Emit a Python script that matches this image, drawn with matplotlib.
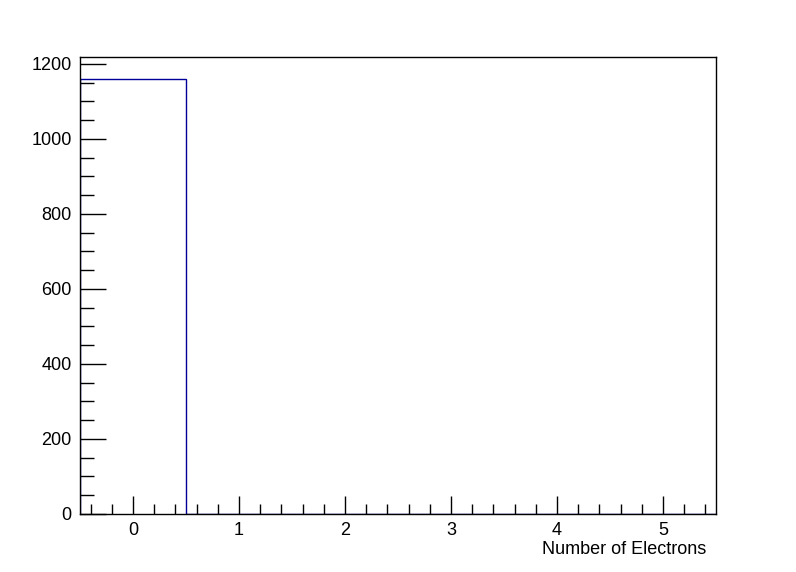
import matplotlib
matplotlib.use('Agg')
import matplotlib.pyplot as plt
from matplotlib.ticker import MultipleLocator
import numpy as np

# histogram: number of electrons per event
bin_edges = [-0.5, 0.5, 1.5, 2.5, 3.5, 4.5, 5.5]
counts = [1160, 0, 0, 0, 0, 0]
x_title = 'Number of Electrons'

plt.rcParams['font.family'] = ['Liberation Sans', 'DejaVu Sans']

fig = plt.figure(figsize=(7.96, 5.72), dpi=100)
ax = fig.add_axes([80/796, 58/572, 636/796, 457/572])

ax.stairs(counts, bin_edges, color='#000099', linewidth=1.0)

ax.set_xlim(bin_edges[0], bin_edges[-1])
ax.set_ylim(0, 1.05 * max(counts))

ax.xaxis.set_major_locator(MultipleLocator(1))
ax.xaxis.set_minor_locator(MultipleLocator(0.2))
ax.yaxis.set_major_locator(MultipleLocator(200))
ax.yaxis.set_minor_locator(MultipleLocator(50))

ax.tick_params(axis='both', which='both', direction='in', top=False, right=False,
               labelsize=13, width=1, color='black')
ax.tick_params(axis='x', which='major', length=13, pad=6)
ax.tick_params(axis='x', which='minor', length=7)
ax.tick_params(axis='y', which='major', length=19, pad=6)
ax.tick_params(axis='y', which='minor', length=10)

for s in ax.spines.values():
    s.set_linewidth(1)

ax.set_xlabel(x_title, fontsize=13, ha='right', va='baseline')
ax.xaxis.set_label_coords(626/636, -40/457)

fig.savefig('out.png', dpi=100)
